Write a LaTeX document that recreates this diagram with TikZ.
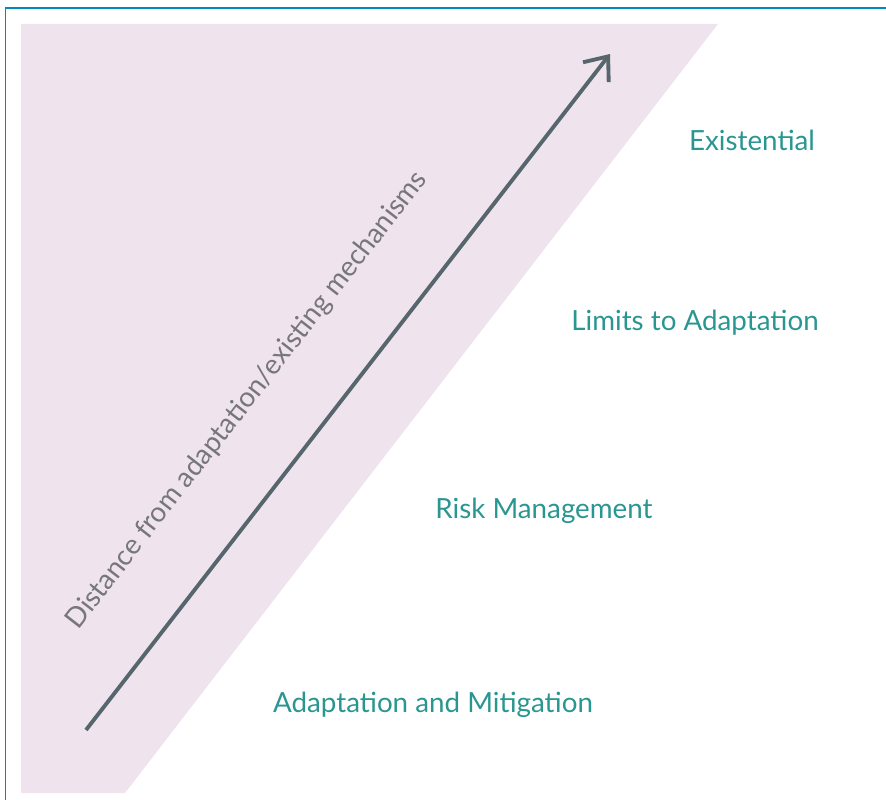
\documentclass[tikz,border=0pt]{standalone}
\usepackage{fontspec}
\setmainfont{Lato}
\usepackage{tikz}
\usetikzlibrary{arrows.meta}

\definecolor{framecol}{RGB}{0,138,190}
\definecolor{wedgecol}{RGB}{239,228,238}
\definecolor{arrowcol}{RGB}{86,102,108}
\definecolor{levelcol}{RGB}{42,150,145}
\definecolor{axiscol}{RGB}{118,118,124}

\begin{document}
\begin{tikzpicture}[
  x=0.02cm, y=-0.02cm,
  level/.style={text=levelcol, font=\fontsize{15.8}{18}\selectfont, inner sep=0pt},
  axislabel/.style={text=axiscol, font=\fontsize{15.8}{18}\selectfont, inner sep=0pt},
  arr/.style={draw=arrowcol, line width=2.2pt,
              -{Straight Barb[length=4mm, width=6.5mm, line width=2.2pt]}},
]
\useasboundingbox (0,0) rectangle (886,800);

%% ---------- frame and shaded wedge ----------
\draw[framecol, line width=1.1pt] (886,8) -- (5.5,8) -- (5.5,800);
\fill[wedgecol] (21,24) -- (718,24) -- (125,793) -- (21,793) -- cycle;

%% ---------- axis arrow ----------
\coordinate (tail) at (86,730);
\coordinate (head) at (610,54);
\draw[arr] (tail) -- node[axislabel, pos=0.42, sloped, above=1.2cm] (dist)
  {Distance from adaptation/existing mechanisms} (head);

%% ---------- levels ----------
\node[level] (exist) at (752,140) {Existential};
\node[level] (limits) at (695,323) {Limits to Adaptation};
\node[level] (risk) at (544,511) {Risk Management};
\node[level] (adapt) at (433,705) {Adaptation and Mitigation};

\end{tikzpicture}
\end{document}
